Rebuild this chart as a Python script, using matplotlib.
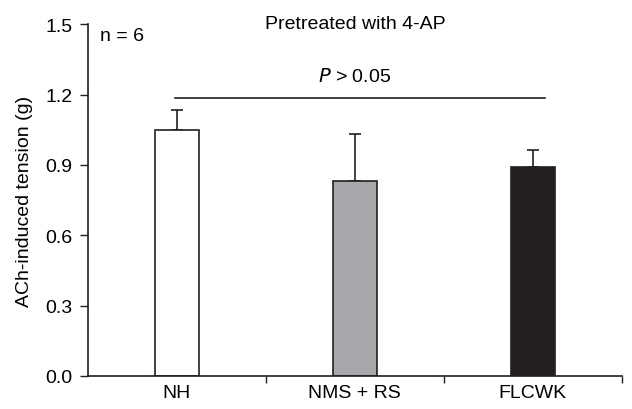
import matplotlib.pyplot as plt
import numpy as np

plt.rcParams['font.family'] = ['Liberation Sans', 'DejaVu Sans']

groups = ['NH', 'NMS + RS', 'FLCWK']
tension = [1.05, 0.83, 0.89]
sem = [0.085, 0.20, 0.075]
colors = ['white', '#a7a8ab', '#231f20']
yticks = [0.0, 0.3, 0.6, 0.9, 1.2, 1.5]

fig = plt.figure(figsize=(6.32, 4.10), dpi=100)
ax = fig.add_axes([0.139, 0.0805, 0.845, 0.858])

x = np.arange(len(groups)) + 0.5
ax.bar(x, tension, width=0.25, color=colors, edgecolor='#231f20', linewidth=1.2, zorder=2)
ax.errorbar(x, tension, yerr=[np.zeros(3), sem], fmt='none', ecolor='#231f20',
            elinewidth=1.2, capsize=4.3, capthick=1.2, zorder=1)

fs = 14
ax.set_xlim(0, 3)
ax.set_ylim(0, 1.5)
ax.set_yticks(yticks)
ax.set_yticklabels([f'{v:.1f}' for v in yticks], fontsize=fs)
ax.set_xticks([1, 2, 3])
ax.set_xticklabels([])
ax.set_xticks(x, minor=True)
ax.set_xticklabels(groups, minor=True, fontsize=fs)
ax.tick_params(axis='x', which='minor', length=0, pad=6)
ax.tick_params(axis='x', which='major', length=5, width=1, color='#231f20')
ax.tick_params(axis='y', length=6, width=1, color='#231f20', pad=5)
for s in ['top', 'right']:
    ax.spines[s].set_visible(False)
for s in ['left', 'bottom']:
    ax.spines[s].set_linewidth(1.2)
    ax.spines[s].set_color('#231f20')

ax.set_ylabel('ACh-induced tension (g)', fontsize=fs, labelpad=9)

# significance line
ax.plot([0.49, 2.57], [1.184, 1.184], color='#231f20', lw=1.2, clip_on=False)
ax.text(1.5, 1.24, r'$\it{P}$ > 0.05', ha='center', va='bottom', fontsize=fs)
ax.text(1.5, 1.465, 'Pretreated with 4-AP', ha='center', va='bottom', fontsize=fs)
ax.text(0.07, 1.49, 'n = 6', ha='left', va='top', fontsize=fs)

fig.savefig('out.png', dpi=100)
